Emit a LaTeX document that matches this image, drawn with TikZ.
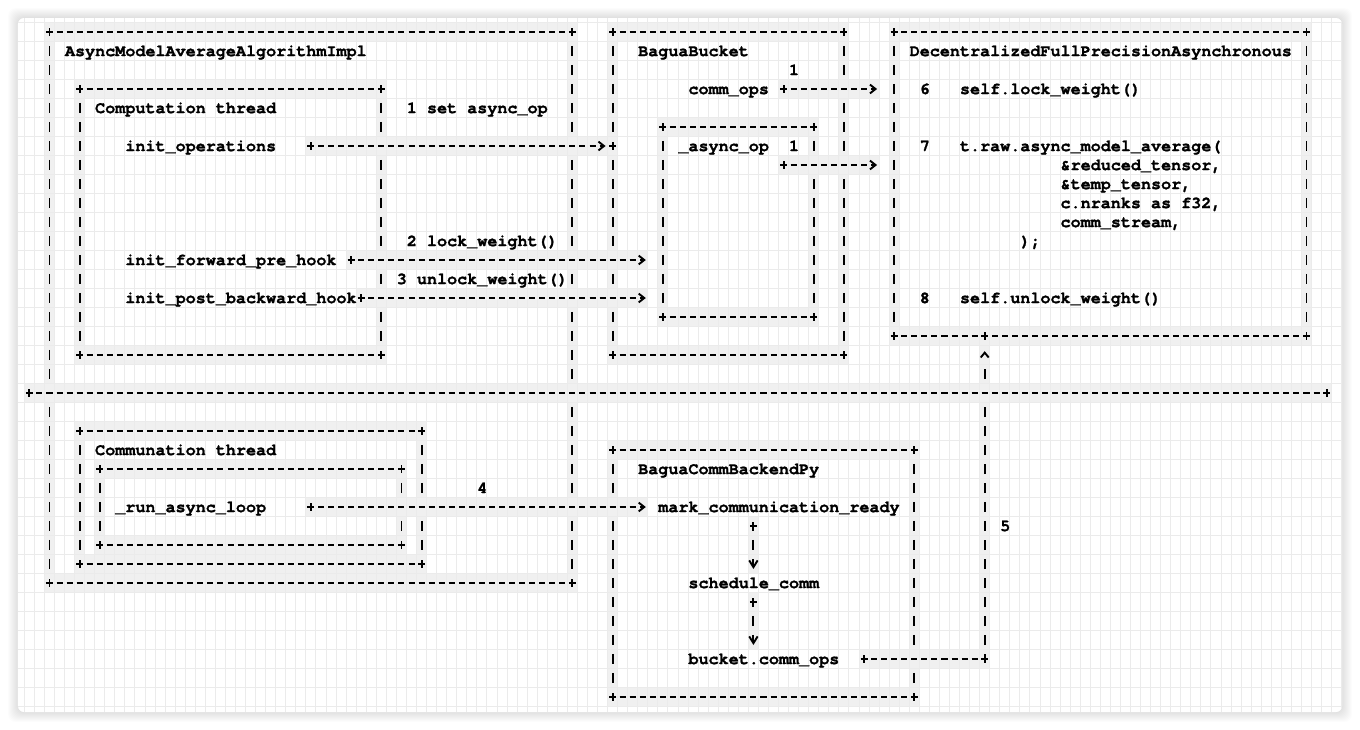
\documentclass[tikz,border=0pt]{standalone}
\usepackage{fontspec}
\setmonofont{texgyrecursor}[Extension=.otf, UprightFont=*-regular, BoldFont=*-bold, BoldFeatures={FakeBold=1.2}]
\usepackage{tikz}
\usetikzlibrary{arrows.meta}

\pgfdeclarelayer{back}
\pgfdeclarelayer{cells}
\pgfdeclarelayer{gridl}
\pgfsetlayers{back,cells,gridl,main}

% one unit is one character cell: 10px wide, 19px high
\newcommand{\hband}[3]{\begin{pgfonlayer}{cells}\fill[cellfill] (#2-0.5,#1-0.5) rectangle (#3+0.5,#1+0.5);\end{pgfonlayer}}
\newcommand{\vband}[3]{\begin{pgfonlayer}{cells}\fill[cellfill] (#1-0.5,#2-0.5) rectangle (#1+0.5,#3+0.5);\end{pgfonlayer}}
\newcommand{\pluscell}[2]{\draw[plusmark] (#1-0.35,#2) -- (#1+0.35,#2) (#1,#2-0.21) -- (#1,#2+0.21);}
\newcommand{\hrun}[3]{\hband{#1}{#2}{#3}\draw[hdash] (#2,#1) -- (#3,#1);\pluscell{#2}{#1}\pluscell{#3}{#1}}
\newcommand{\vrun}[3]{\vband{#1}{#2}{#3}\draw[vdash] (#1,#2-0.275) -- (#1,#3+0.275);}
\newcommand{\lbl}[4]{\node[txt] (#1) at (#2-0.5,#3+0.27) {#4};}

\begin{document}
\begin{tikzpicture}[x=5.028pt, y=-9.5pt,
	cellfill/.style={fill=black!6},
	gridline/.style={draw=black!8, line width=0.5pt},
	hdash/.style={line width=0.95pt, dash pattern=on 3.017pt off 2.011pt, dash phase=1.508pt},
	vdash/.style={line width=0.95pt, dash pattern=on 5.225pt off 4.275pt},
	vflow/.style={line width=0.95pt, dash pattern=on 5.225pt off 4.275pt, dash phase=2.6125pt},
	plusmark/.style={line width=0.95pt},
	flow/.style={hdash, -{Straight Barb[length=2.8pt,width=4.4pt]}, shorten >=-1.5pt},
	down/.style={vflow, -{Straight Barb[length=3.4pt,width=4.2pt]}, shorten >=-2.5pt},
	txt/.style={font=\ttfamily\bfseries\fontsize{8.38pt}{9.5pt}\selectfont, anchor=base west, inner sep=0pt}]

\useasboundingbox (-2.924,-1.684) rectangle (132.32,36.737);

% card
\coordinate (cardNW) at (-1.134,-0.737);
\coordinate (cardSE) at (130.53,35.79);
\begin{pgfonlayer}{back}
\foreach \d in {1,...,10}{
	\fill[black, opacity=0.012, rounded corners=4pt] ([shift={(-\d*0.5pt,\d*0.5pt)}]cardNW) rectangle ([shift={(\d*0.5pt,-\d*0.5pt)}]cardSE);
}
\fill[white, rounded corners=3pt] (cardNW) rectangle (cardSE);
\end{pgfonlayer}

% grid
\begin{pgfonlayer}{gridl}
\begin{scope}
\clip[rounded corners=3pt] (cardNW) rectangle (cardSE);
\foreach \c in {-2,...,130}{
	\draw[gridline] (\c+0.5,-1) -- (\c+0.5,36);
}
\foreach \r in {-1,...,35}{
	\draw[gridline] (-2,\r+0.5) -- (131,\r+0.5);
}
\end{scope}
\end{pgfonlayer}

% AsyncModelAverageAlgorithmImpl
\hrun{0}{2}{54} \hrun{29}{2}{54}
\vrun{2}{1}{18} \vrun{2}{20}{28}
\foreach \a/\b in {1/5,7/11,13/13,15/18,20/24,26/28}{
	\vrun{54}{\a}{\b}
}
\hrun{3}{5}{35} \hrun{17}{5}{35}
\vrun{5}{4}{16}
\foreach \a/\b in {4/5,7/11,13/13,15/16}{
	\vrun{35}{\a}{\b}
}
\lbl{asyncImpl}{4}{1}{AsyncModelAverageAlgorithmImpl}
\lbl{compThread}{7}{4}{Computation thread}
\lbl{setOp}{38}{4}{1 set async\_op}
\lbl{initOps}{10}{6}{init\_operations}
\lbl{lockW}{38}{11}{2 lock\_weight()}
\lbl{fwdHook}{10}{12}{init\_forward\_pre\_hook}
\lbl{unlockW}{37}{13}{3 unlock\_weight()}
\lbl{bwdHook}{10}{14}{init\_post\_backward\_hook}

% BaguaBucket
\hrun{0}{58}{81} \hrun{17}{58}{81}
\foreach \a/\b in {1/5,7/11,13/13,15/16}{
	\vrun{58}{\a}{\b}
}
\foreach \a/\b in {1/2,4/6,8/16}{
	\vrun{81}{\a}{\b}
}
\hrun{5}{63}{78} \hrun{15}{63}{78}
\vrun{63}{6}{14} \vrun{78}{6}{6} \vrun{78}{8}{14}
\lbl{bucket}{61}{1}{BaguaBucket}
\lbl{oneA}{76}{2}{1}
\lbl{commOps}{66}{3}{comm\_ops}
\lbl{asyncOp}{65}{6}{\_async\_op}
\lbl{oneB}{76}{6}{1}

% DecentralizedFullPrecisionAsynchronous
\hrun{0}{86}{127} \hrun{16}{86}{127}
\vrun{86}{1}{15} \vrun{127}{1}{15}
\lbl{decen}{88}{1}{DecentralizedFullPrecisionAsynchronous}
\lbl{six}{89}{3}{6} \lbl{lockSelf}{93}{3}{self.lock\_weight()}
\lbl{seven}{89}{6}{7} \lbl{avg}{93}{6}{t.raw.async\_model\_average(}
\lbl{argA}{103}{7}{\&reduced\_tensor,}
\lbl{argB}{103}{8}{\&temp\_tensor,}
\lbl{argC}{103}{9}{c.nranks as f32,}
\lbl{argD}{103}{10}{comm\_stream,}
\lbl{argE}{99}{11}{);}
\lbl{eight}{89}{14}{8} \lbl{unlockSelf}{93}{14}{self.unlock\_weight()}

% thread border
\hrun{19}{0}{129}

% Communation thread
\hrun{21}{5}{39} \hrun{28}{5}{39}
\vrun{5}{22}{27} \vrun{39}{22}{24} \vrun{39}{26}{27}
\hrun{23}{7}{37} \hrun{27}{7}{37}
\vrun{7}{24}{26} \vrun{37}{24}{24} \vrun{37}{26}{26}
\lbl{commThread}{7}{22}{Communation thread}
\lbl{loop}{9}{25}{\_run\_async\_loop}
\lbl{four}{45}{24}{4}

% BaguaCommBackendPy
\hrun{22}{58}{88} \hrun{35}{58}{88}
\vrun{58}{23}{24} \vrun{58}{26}{34}
\vrun{88}{23}{32} \vrun{88}{34}{34}
\lbl{backend}{61}{23}{BaguaCommBackendPy}
\lbl{ready}{63}{25}{mark\_communication\_ready}
\lbl{sched}{66}{29}{schedule\_comm}
\lbl{bops}{66}{33}{bucket.comm\_ops}
\lbl{five}{97}{26}{5}

% arrows
\coordinate (setFrom) at (28,6); \coordinate (setTo) at (57,6);
\hband{6}{28}{58} \pluscell{28}{6} \pluscell{58}{6}
\draw[flow] (setFrom) -- (setTo);

\coordinate (lockFrom) at (32,12); \coordinate (lockTo) at (61,12);
\hband{12}{32}{61} \pluscell{32}{12}
\draw[flow] (lockFrom) -- (lockTo);

\coordinate (unlockFrom) at (33,14); \coordinate (unlockTo) at (61,14);
\hband{14}{33}{61} \pluscell{33}{14}
\draw[flow] (unlockFrom) -- (unlockTo);

\coordinate (opsFrom) at (75,3); \coordinate (opsTo) at (84,3);
\hband{3}{75}{84} \pluscell{75}{3}
\draw[flow] (opsFrom) -- (opsTo);

\coordinate (opFrom) at (75,7); \coordinate (opTo) at (84,7);
\hband{7}{75}{84} \pluscell{75}{7}
\draw[flow] (opFrom) -- (opTo);

\coordinate (loopFrom) at (28,25); \coordinate (loopTo) at (61,25);
\hband{25}{28}{61} \pluscell{28}{25}
\draw[flow] (loopFrom) -- (loopTo);

\coordinate (readyOut) at (72,26); \coordinate (schedIn) at (72,28);
\coordinate (schedOut) at (72,30); \coordinate (bopsIn) at (72,32);
\vband{72}{26}{28} \vband{72}{30}{32}
\pluscell{72}{26} \pluscell{72}{30}
\draw[down] (readyOut) -- (schedIn);
\draw[down] (schedOut) -- (bopsIn);

% 5: back up to the weight lock
\coordinate (bopsOut) at (83,33); \coordinate (turn5) at (95,33);
\coordinate (below5) at (95,20); \coordinate (above5) at (95,18);
\coordinate (lock5) at (95,17);
\hband{33}{83}{95} \vband{95}{20}{32} \vband{95}{17}{18}
\pluscell{83}{33} \pluscell{95}{33} \pluscell{95}{16}
\draw[hdash] (bopsOut) -- (turn5);
\draw[vflow, shorten >=-2.6125pt] (turn5) -- (below5);
\draw[vdash, dash pattern=on 5.225pt off 20pt, shorten <=-2.6125pt, shorten >=-1.9pt, -{Straight Barb[length=2.4pt,width=4pt]}] (above5) -- (lock5);

\end{tikzpicture}
\end{document}
